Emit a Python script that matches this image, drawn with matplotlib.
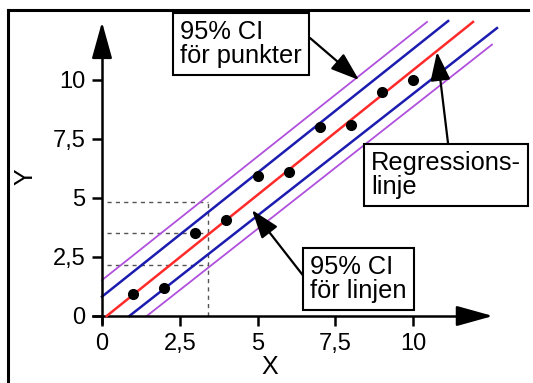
import matplotlib
matplotlib.use("Agg")
import matplotlib.pyplot as plt
from matplotlib.lines import Line2D

plt.rcParams['font.family'] = ['Liberation Sans', 'DejaVu Sans']

# ---- data ----
x_pts = [1, 2, 3, 4, 5, 6, 7, 8, 9, 10]
y_pts = [0.95, 1.2, 3.5, 4.05, 5.95, 6.1, 8.0, 8.1, 9.5, 10.0]

reg_x = [0.15, 11.93]
reg_y = [0.0, 12.46]
ci_up_x = [0.0, 11.13]
ci_up_y = [0.82, 12.5]
ci_lo_x = [0.88, 12.7]
ci_lo_y = [0.0, 12.2]
pi_up_x = [0.0, 10.45]
pi_up_y = [1.52, 12.46]
pi_lo_x = [1.44, 12.54]
pi_lo_y = [0.0, 11.5]

guide_y = [4.83, 3.53, 2.17]
guide_x = 3.41

ticks = [0, 2.5, 5, 7.5, 10]
tick_labels = ['0', '2,5', '5', '7,5', '10']

W, H = 533, 383
fig = plt.figure(figsize=(W / 100, H / 100), dpi=100)
ax = fig.add_axes([0, 0, 1, 1])

# pixel mapping
X0, SX = 102.0, 31.1
Y0, SY = 316.0, 23.6
ax.set_xlim(-X0 / SX, (W - X0) / SX)
ax.set_ylim((Y0 - H) / SY, Y0 / SY)

def P(px, py):
    return ((px - X0) / SX, (Y0 - py) / SY)

PURPLE = '#b050dd'
BLUE = '#1c1cb0'
RED = '#ff2a2a'

# guide lines
for gy in guide_y:
    ax.plot([0.15, guide_x], [gy, gy], ls=(0, (3, 3)), color='#555555', lw=1.0, zorder=1)
ax.plot([guide_x, guide_x], [0, guide_y[0]], ls=(0, (3, 3)), color='#555555', lw=1.0, zorder=1)

ax.plot(pi_up_x, pi_up_y, color=PURPLE, lw=1.3, zorder=2)
ax.plot(pi_lo_x, pi_lo_y, color=PURPLE, lw=1.3, zorder=2)
ax.plot(ci_up_x, ci_up_y, color=BLUE, lw=1.8, zorder=2)
ax.plot(ci_lo_x, ci_lo_y, color=BLUE, lw=1.8, zorder=2)
ax.plot(reg_x, reg_y, color=RED, lw=1.8, zorder=3)
ax.plot(x_pts, y_pts, 'o', color='black', ms=7, zorder=4)

# axes as spines through zero
for s in ['top', 'right']:
    ax.spines[s].set_visible(False)
ax.spines['left'].set_position(('data', 0))
ax.spines['bottom'].set_position(('data', 0))
ax.spines['left'].set_bounds(-0.3, 12.0)
ax.spines['bottom'].set_bounds(-0.3, 12.0)
ax.spines['left'].set_linewidth(1.8)
ax.spines['bottom'].set_linewidth(1.8)
ax.set_xticks(ticks)
ax.set_xticklabels(tick_labels)
ax.set_yticks(ticks)
ax.set_yticklabels(tick_labels)
ax.tick_params(axis='both', direction='out', length=7, width=1.8, labelsize=17, pad=5)

# axis arrows
ax.annotate('', xy=(0, 12.46), xytext=(0, 11.5),
            arrowprops=dict(arrowstyle='-|>,head_length=0.9,head_width=0.25', mutation_scale=25,
                            lw=1.8, color='black', shrinkA=0, shrinkB=0))
ax.annotate('', xy=(12.57, 0), xytext=(11.5, 0),
            arrowprops=dict(arrowstyle='-|>,head_length=0.9,head_width=0.25', mutation_scale=25,
                            lw=1.8, color='black', shrinkA=0, shrinkB=0))

# axis labels
ax.text(*P(270, 367), 'X', fontsize=18, ha='center', va='center')
ax.text(*P(25, 177), 'Y', fontsize=18, ha='center', va='center', rotation=90)

# callouts
FS = 18.3
box = dict(boxstyle='square,pad=0.28', fc='white', ec='black', lw=1.5)
ax.text(*P(180, 44), '95% CI\nför punkter', fontsize=FS, ha='left', va='center',
        linespacing=1.0, bbox=box, zorder=6)
ax.text(*P(371, 175), 'Regressions-\nlinje', fontsize=FS, ha='left', va='center',
        linespacing=1.0, bbox=box, zorder=6)
ax.text(*P(310, 279), '95% CI\nför linjen', fontsize=FS, ha='left', va='center',
        linespacing=1.0, bbox=box, zorder=6)

arr = dict(arrowstyle='-|>,head_length=0.8,head_width=0.28', mutation_scale=22, lw=1.6,
           color='black', shrinkA=0, shrinkB=0)
ax.annotate('', xy=P(359, 80), xytext=P(310, 38), arrowprops=arr, zorder=5)
ax.annotate('', xy=P(437, 52), xytext=P(448, 143), arrowprops=arr, zorder=5)
ax.annotate('', xy=P(252, 210), xytext=P(305, 278), arrowprops=arr, zorder=5)

# figure border (left and top)
fig.add_artist(Line2D([7.5 / W, 7.5 / W], [0, 1 - 10 / H], color='black', lw=2.2, transform=fig.transFigure))
fig.add_artist(Line2D([7.5 / W, 528 / W], [1 - 10 / H, 1 - 10 / H], color='black', lw=2.2, transform=fig.transFigure))

fig.savefig('out.png', dpi=100)
